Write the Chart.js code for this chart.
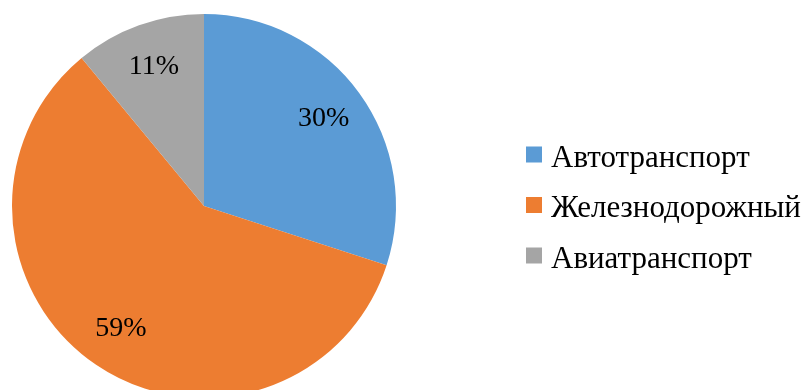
<!DOCTYPE html>
<html>
<head>
<meta charset="utf-8">
<script src="https://cdn.jsdelivr.net/npm/chart.js@4.4.0/dist/chart.umd.min.js"></script>
<style>
  html, body { margin: 0; padding: 0; background: #fff; overflow: hidden; }
  #wrap { width: 811px; height: 412px; }
</style>
</head>
<body>
<div id="wrap"><canvas id="transportChart"></canvas></div>
<script>
const categories = ['Автотранспорт', 'Железнодорожный', 'Авиатранспорт'];
const shares = [30, 59, 11];
const sliceColors = ['#5B9BD5', '#ED7D31', '#A5A5A5'];

const serif = '"Liberation Serif", "Times New Roman", serif';

// percentage text inside each slice, along the slice's middle angle
const sliceLabels = {
  id: 'sliceLabels',
  afterDatasetsDraw(chart) {
    const ctx = chart.ctx;
    const meta = chart.getDatasetMeta(0);
    ctx.save();
    ctx.font = '28px ' + serif;
    ctx.fillStyle = '#000';
    ctx.textAlign = 'center';
    ctx.textBaseline = 'middle';
    meta.data.forEach((arc, i) => {
      const p = arc.getProps(['x', 'y', 'startAngle', 'endAngle', 'outerRadius'], true);
      const mid = (p.startAngle + p.endAngle) / 2;
      const r = p.outerRadius * 0.77;
      ctx.fillText(shares[i] + '%', p.x + Math.cos(mid) * r, p.y + Math.sin(mid) * r);
    });
    ctx.restore();
  }
};

// legend to the right: square marker + name
const sideLegend = {
  id: 'sideLegend',
  afterDraw(chart) {
    const ctx = chart.ctx;
    ctx.save();
    ctx.font = '31px ' + serif;
    ctx.textBaseline = 'alphabetic';
    categories.forEach((name, i) => {
      const y = 166.5 + i * 50.5;
      ctx.fillStyle = sliceColors[i];
      ctx.fillRect(526, y - 20, 16, 16);
      ctx.fillStyle = '#000';
      ctx.fillText(name, 551, y);
    });
    ctx.restore();
  }
};

new Chart(document.getElementById('transportChart'), {
  type: 'pie',
  data: {
    labels: categories,
    datasets: [{
      data: shares,
      backgroundColor: sliceColors,
      borderWidth: 0
    }]
  },
  options: {
    responsive: true,
    maintainAspectRatio: false,
    animation: false,
    layout: { padding: { left: 12, top: 14, bottom: 14, right: 415 } },
    plugins: {
      legend: { display: false },
      tooltip: { enabled: false }
    }
  },
  plugins: [sliceLabels, sideLegend]
});
</script>
</body>
</html>
